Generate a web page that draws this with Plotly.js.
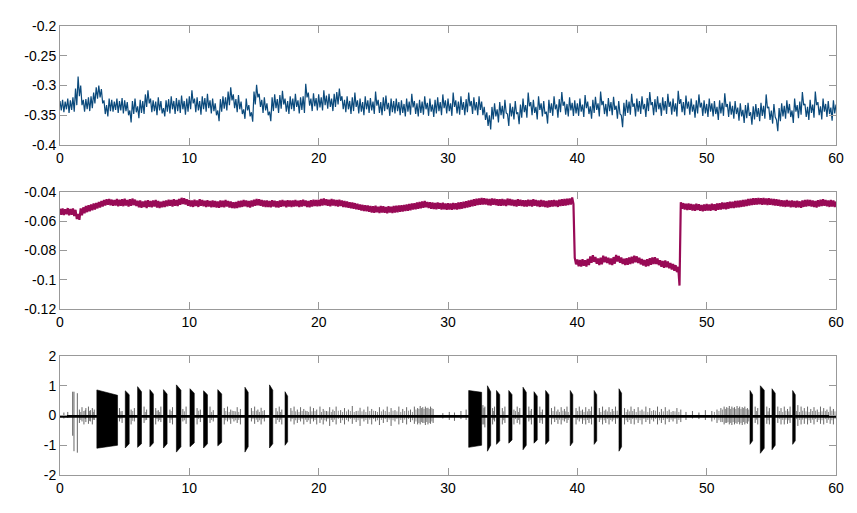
<!DOCTYPE html>
<html>
<head>
<meta charset="utf-8">
<script src="https://cdn.plot.ly/plotly-3.0.1.min.js"></script>
<style>
  html, body { margin: 0; padding: 0; background: #fff; }
  #chart { width: 857px; height: 513px; }
</style>
</head>
<body>
<div id="chart"></div>
<script>
/* Three stacked traces over 60 s: two noisy slow signals and one burst channel.
   The noisy traces are kept as the upper and lower edge of the drawn band
   (upper edge at 0, 0.2, 0.4 ... s, lower edge at 0.1, 0.3 ... s). */

const sampleStep = 0.2;

// ---- Top trace (blue) ----
const topUpper = [
  -0.326,-0.324,-0.327,-0.322,-0.325,-0.320,-0.305,-0.285,-0.300,-0.324,
  -0.323,-0.320,-0.318,-0.312,-0.303,-0.300,-0.306,-0.325,-0.333,-0.322,
  -0.324,-0.327,-0.322,-0.326,-0.321,-0.325,-0.328,-0.342,-0.326,-0.322,
  -0.335,-0.324,-0.326,-0.315,-0.308,-0.322,-0.325,-0.327,-0.320,-0.326,
  -0.338,-0.325,-0.323,-0.318,-0.326,-0.321,-0.324,-0.317,-0.326,-0.322,
  -0.318,-0.308,-0.322,-0.320,-0.326,-0.318,-0.321,-0.314,-0.325,-0.322,
  -0.330,-0.342,-0.323,-0.318,-0.320,-0.310,-0.303,-0.315,-0.323,-0.316,
  -0.327,-0.340,-0.322,-0.333,-0.345,-0.310,-0.299,-0.314,-0.324,-0.320,
  -0.330,-0.344,-0.320,-0.315,-0.323,-0.316,-0.309,-0.322,-0.326,-0.318,
  -0.322,-0.314,-0.325,-0.320,-0.318,-0.297,-0.312,-0.322,-0.313,-0.321,
  -0.315,-0.320,-0.308,-0.317,-0.314,-0.322,-0.314,-0.311,-0.305,-0.318,
  -0.324,-0.318,-0.326,-0.320,-0.312,-0.325,-0.322,-0.328,-0.318,-0.325,
  -0.321,-0.327,-0.310,-0.324,-0.328,-0.320,-0.317,-0.329,-0.322,-0.326,
  -0.322,-0.328,-0.325,-0.331,-0.322,-0.327,-0.314,-0.326,-0.330,-0.324,
  -0.327,-0.318,-0.329,-0.322,-0.332,-0.324,-0.320,-0.328,-0.315,-0.325,
  -0.322,-0.330,-0.312,-0.325,-0.327,-0.318,-0.328,-0.323,-0.312,-0.326,
  -0.320,-0.328,-0.318,-0.327,-0.336,-0.345,-0.350,-0.336,-0.330,-0.340,
  -0.328,-0.334,-0.324,-0.348,-0.330,-0.336,-0.326,-0.345,-0.332,-0.322,
  -0.333,-0.312,-0.328,-0.324,-0.336,-0.318,-0.330,-0.326,-0.344,-0.324,
  -0.330,-0.318,-0.332,-0.323,-0.311,-0.327,-0.331,-0.320,-0.329,-0.325,
  -0.330,-0.322,-0.332,-0.316,-0.327,-0.335,-0.324,-0.319,-0.330,-0.310,
  -0.326,-0.331,-0.321,-0.328,-0.319,-0.334,-0.326,-0.350,-0.329,-0.324,
  -0.327,-0.314,-0.330,-0.322,-0.326,-0.318,-0.331,-0.321,-0.311,-0.328,
  -0.323,-0.318,-0.329,-0.320,-0.326,-0.314,-0.327,-0.322,-0.330,-0.309,
  -0.323,-0.328,-0.317,-0.327,-0.322,-0.332,-0.325,-0.315,-0.329,-0.325,
  -0.331,-0.322,-0.330,-0.326,-0.336,-0.325,-0.329,-0.313,-0.331,-0.327,
  -0.334,-0.326,-0.337,-0.330,-0.341,-0.333,-0.329,-0.345,-0.335,-0.331,
  -0.338,-0.329,-0.334,-0.315,-0.336,-0.342,-0.331,-0.358,-0.338,-0.330,
  -0.334,-0.325,-0.331,-0.342,-0.322,-0.333,-0.327,-0.311,-0.331,-0.336,
  -0.324,-0.332,-0.310,-0.328,-0.335,-0.322,-0.331,-0.326,-0.337,-0.325,
  -0.332
];
const topLower = [
  -0.342,-0.345,-0.340,-0.346,-0.341,-0.344,-0.333,-0.318,-0.333,-0.344,
  -0.340,-0.343,-0.338,-0.330,-0.322,-0.320,-0.330,-0.348,-0.352,-0.343,
  -0.344,-0.341,-0.346,-0.342,-0.347,-0.343,-0.350,-0.362,-0.348,-0.345,
  -0.355,-0.346,-0.348,-0.336,-0.330,-0.345,-0.343,-0.350,-0.342,-0.347,
  -0.352,-0.344,-0.347,-0.340,-0.348,-0.343,-0.346,-0.340,-0.349,-0.344,
  -0.340,-0.330,-0.345,-0.342,-0.349,-0.340,-0.344,-0.338,-0.347,-0.343,
  -0.350,-0.360,-0.344,-0.339,-0.342,-0.333,-0.325,-0.338,-0.345,-0.340,
  -0.348,-0.356,-0.342,-0.352,-0.361,-0.332,-0.320,-0.336,-0.346,-0.342,
  -0.350,-0.360,-0.343,-0.338,-0.346,-0.339,-0.332,-0.344,-0.348,-0.340,
  -0.343,-0.336,-0.347,-0.341,-0.346,-0.320,-0.334,-0.343,-0.335,-0.342,
  -0.337,-0.342,-0.333,-0.339,-0.336,-0.343,-0.336,-0.332,-0.326,-0.340,
  -0.345,-0.340,-0.348,-0.343,-0.336,-0.347,-0.344,-0.350,-0.340,-0.346,
  -0.342,-0.348,-0.334,-0.346,-0.350,-0.343,-0.340,-0.351,-0.345,-0.347,
  -0.343,-0.350,-0.346,-0.352,-0.344,-0.349,-0.337,-0.348,-0.352,-0.346,
  -0.349,-0.340,-0.351,-0.344,-0.353,-0.347,-0.343,-0.350,-0.338,-0.347,
  -0.343,-0.351,-0.336,-0.347,-0.349,-0.341,-0.350,-0.345,-0.335,-0.348,
  -0.342,-0.350,-0.341,-0.350,-0.358,-0.368,-0.374,-0.357,-0.352,-0.362,
  -0.350,-0.356,-0.346,-0.368,-0.352,-0.357,-0.348,-0.365,-0.354,-0.345,
  -0.354,-0.335,-0.350,-0.346,-0.357,-0.341,-0.352,-0.348,-0.364,-0.346,
  -0.351,-0.340,-0.354,-0.345,-0.334,-0.349,-0.352,-0.342,-0.351,-0.347,
  -0.351,-0.344,-0.353,-0.338,-0.348,-0.356,-0.346,-0.341,-0.352,-0.333,
  -0.348,-0.352,-0.343,-0.350,-0.341,-0.356,-0.348,-0.370,-0.351,-0.346,
  -0.349,-0.336,-0.352,-0.344,-0.348,-0.340,-0.353,-0.343,-0.333,-0.350,
  -0.345,-0.340,-0.351,-0.342,-0.348,-0.336,-0.349,-0.344,-0.352,-0.331,
  -0.345,-0.350,-0.339,-0.349,-0.344,-0.354,-0.347,-0.337,-0.351,-0.347,
  -0.353,-0.344,-0.352,-0.348,-0.358,-0.347,-0.351,-0.336,-0.353,-0.349,
  -0.356,-0.348,-0.359,-0.352,-0.363,-0.355,-0.351,-0.366,-0.357,-0.353,
  -0.360,-0.351,-0.356,-0.338,-0.358,-0.364,-0.353,-0.377,-0.360,-0.352,
  -0.356,-0.347,-0.353,-0.363,-0.344,-0.355,-0.349,-0.333,-0.353,-0.358,
  -0.346,-0.354,-0.333,-0.350,-0.357,-0.344,-0.353,-0.348,-0.359,-0.347
];

// ---- Middle trace (magenta), with the drop between ~39.8 s and ~48 s ----
const midUpper = [
  -0.0515,-0.0512,-0.0518,-0.0510,-0.0516,-0.0513,-0.0522,-0.0550,-0.0512,-0.0505,
  -0.0495,-0.0490,-0.0485,-0.0478,-0.0475,-0.0468,-0.0462,-0.0455,-0.0450,-0.0448,
  -0.0452,-0.0455,-0.0448,-0.0453,-0.0450,-0.0446,-0.0455,-0.0450,-0.0445,-0.0452,
  -0.0460,-0.0458,-0.0465,-0.0460,-0.0456,-0.0462,-0.0458,-0.0455,-0.0462,-0.0466,
  -0.0462,-0.0458,-0.0452,-0.0455,-0.0450,-0.0455,-0.0448,-0.0440,-0.0442,-0.0450,
  -0.0455,-0.0458,-0.0452,-0.0458,-0.0450,-0.0455,-0.0460,-0.0456,-0.0462,-0.0458,
  -0.0462,-0.0465,-0.0458,-0.0460,-0.0455,-0.0462,-0.0465,-0.0470,-0.0468,-0.0462,
  -0.0460,-0.0455,-0.0458,-0.0462,-0.0458,-0.0452,-0.0448,-0.0450,-0.0455,-0.0458,
  -0.0458,-0.0462,-0.0456,-0.0460,-0.0463,-0.0458,-0.0455,-0.0460,-0.0456,-0.0458,
  -0.0458,-0.0455,-0.0460,-0.0456,-0.0452,-0.0458,-0.0462,-0.0456,-0.0452,-0.0455,
  -0.0452,-0.0448,-0.0445,-0.0450,-0.0453,-0.0448,-0.0452,-0.0455,-0.0452,-0.0458,
  -0.0462,-0.0465,-0.0470,-0.0472,-0.0476,-0.0480,-0.0485,-0.0488,-0.0490,-0.0492,
  -0.0495,-0.0498,-0.0494,-0.0500,-0.0496,-0.0498,-0.0502,-0.0497,-0.0500,-0.0496,
  -0.0494,-0.0492,-0.0490,-0.0488,-0.0485,-0.0482,-0.0478,-0.0476,-0.0472,-0.0468,
  -0.0465,-0.0462,-0.0468,-0.0470,-0.0472,-0.0475,-0.0472,-0.0476,-0.0474,-0.0478,
  -0.0476,-0.0478,-0.0475,-0.0477,-0.0472,-0.0470,-0.0466,-0.0463,-0.0458,-0.0455,
  -0.0450,-0.0446,-0.0444,-0.0440,-0.0442,-0.0446,-0.0448,-0.0444,-0.0446,-0.0450,
  -0.0450,-0.0448,-0.0452,-0.0445,-0.0448,-0.0452,-0.0455,-0.0450,-0.0452,-0.0456,
  -0.0456,-0.0452,-0.0455,-0.0450,-0.0454,-0.0458,-0.0455,-0.0458,-0.0462,-0.0458,
  -0.0456,-0.0454,-0.0458,-0.0452,-0.0450,-0.0448,-0.0446,-0.0444,-0.0438,-0.0850,
  -0.0862,-0.0865,-0.0860,-0.0866,-0.0858,-0.0840,-0.0832,-0.0845,-0.0855,-0.0850,
  -0.0836,-0.0842,-0.0850,-0.0855,-0.0845,-0.0830,-0.0838,-0.0848,-0.0856,-0.0852,
  -0.0848,-0.0842,-0.0835,-0.0840,-0.0850,-0.0858,-0.0865,-0.0860,-0.0852,-0.0848,
  -0.0846,-0.0855,-0.0866,-0.0872,-0.0868,-0.0875,-0.0885,-0.0892,-0.0900,-0.0912,
  -0.0470,-0.0476,-0.0480,-0.0478,-0.0482,-0.0485,-0.0480,-0.0484,-0.0488,-0.0485,
  -0.0482,-0.0485,-0.0480,-0.0484,-0.0478,-0.0476,-0.0472,-0.0474,-0.0470,-0.0466,
  -0.0466,-0.0462,-0.0460,-0.0458,-0.0455,-0.0452,-0.0448,-0.0446,-0.0443,-0.0442,
  -0.0440,-0.0443,-0.0441,-0.0445,-0.0443,-0.0446,-0.0448,-0.0450,-0.0453,-0.0456,
  -0.0458,-0.0455,-0.0460,-0.0458,-0.0462,-0.0460,-0.0464,-0.0458,-0.0455,-0.0452,
  -0.0455,-0.0458,-0.0462,-0.0456,-0.0452,-0.0450,-0.0454,-0.0458,-0.0455,-0.0458,
  -0.0465
];
const midLower = [
  -0.0555,-0.0558,-0.0552,-0.0560,-0.0556,-0.0565,-0.0585,-0.0590,-0.0560,-0.0545,
  -0.0538,-0.0532,-0.0525,-0.0520,-0.0512,-0.0506,-0.0500,-0.0492,-0.0488,-0.0490,
  -0.0495,-0.0492,-0.0498,-0.0494,-0.0497,-0.0492,-0.0500,-0.0495,-0.0490,-0.0496,
  -0.0504,-0.0508,-0.0503,-0.0510,-0.0502,-0.0505,-0.0500,-0.0506,-0.0510,-0.0505,
  -0.0502,-0.0498,-0.0495,-0.0500,-0.0494,-0.0496,-0.0488,-0.0482,-0.0486,-0.0494,
  -0.0500,-0.0502,-0.0496,-0.0502,-0.0494,-0.0498,-0.0503,-0.0499,-0.0505,-0.0502,
  -0.0506,-0.0508,-0.0502,-0.0505,-0.0500,-0.0506,-0.0510,-0.0512,-0.0510,-0.0505,
  -0.0502,-0.0498,-0.0503,-0.0506,-0.0500,-0.0495,-0.0490,-0.0494,-0.0499,-0.0502,
  -0.0502,-0.0505,-0.0500,-0.0504,-0.0507,-0.0501,-0.0498,-0.0504,-0.0500,-0.0502,
  -0.0500,-0.0498,-0.0503,-0.0500,-0.0496,-0.0502,-0.0505,-0.0499,-0.0496,-0.0498,
  -0.0496,-0.0492,-0.0490,-0.0494,-0.0497,-0.0492,-0.0496,-0.0499,-0.0496,-0.0502,
  -0.0505,-0.0508,-0.0512,-0.0515,-0.0518,-0.0522,-0.0526,-0.0530,-0.0532,-0.0535,
  -0.0540,-0.0542,-0.0538,-0.0544,-0.0540,-0.0542,-0.0546,-0.0541,-0.0544,-0.0540,
  -0.0538,-0.0536,-0.0534,-0.0530,-0.0528,-0.0525,-0.0520,-0.0518,-0.0515,-0.0512,
  -0.0508,-0.0505,-0.0510,-0.0514,-0.0516,-0.0518,-0.0515,-0.0520,-0.0518,-0.0522,
  -0.0520,-0.0522,-0.0518,-0.0520,-0.0516,-0.0514,-0.0510,-0.0506,-0.0502,-0.0498,
  -0.0494,-0.0490,-0.0488,-0.0485,-0.0486,-0.0490,-0.0492,-0.0488,-0.0490,-0.0494,
  -0.0494,-0.0492,-0.0496,-0.0490,-0.0492,-0.0496,-0.0499,-0.0494,-0.0496,-0.0500,
  -0.0500,-0.0496,-0.0499,-0.0494,-0.0498,-0.0502,-0.0499,-0.0502,-0.0506,-0.0502,
  -0.0500,-0.0498,-0.0502,-0.0496,-0.0494,-0.0492,-0.0490,-0.0486,-0.0482,-0.0895,
  -0.0908,-0.0910,-0.0905,-0.0910,-0.0900,-0.0884,-0.0878,-0.0890,-0.0900,-0.0895,
  -0.0880,-0.0886,-0.0895,-0.0900,-0.0890,-0.0876,-0.0884,-0.0893,-0.0900,-0.0898,
  -0.0893,-0.0888,-0.0880,-0.0885,-0.0895,-0.0903,-0.0910,-0.0906,-0.0898,-0.0893,
  -0.0892,-0.0900,-0.0912,-0.0918,-0.0914,-0.0922,-0.0930,-0.0938,-0.0948,-0.1040,
  -0.0515,-0.0520,-0.0524,-0.0522,-0.0526,-0.0529,-0.0524,-0.0528,-0.0532,-0.0529,
  -0.0526,-0.0529,-0.0524,-0.0528,-0.0522,-0.0520,-0.0516,-0.0518,-0.0514,-0.0510,
  -0.0510,-0.0506,-0.0504,-0.0502,-0.0499,-0.0496,-0.0492,-0.0490,-0.0487,-0.0486,
  -0.0484,-0.0487,-0.0485,-0.0489,-0.0487,-0.0490,-0.0492,-0.0494,-0.0497,-0.0500,
  -0.0502,-0.0499,-0.0504,-0.0502,-0.0506,-0.0504,-0.0508,-0.0502,-0.0499,-0.0496,
  -0.0499,-0.0502,-0.0506,-0.0500,-0.0496,-0.0494,-0.0498,-0.0502,-0.0499,-0.0502
];

// ---- Bottom trace: dense bursts (start/end time, envelope at each edge) ----
const burstStart = [2.85, 5.05, 6.00, 6.95, 8.00, 9.00, 10.05, 11.10, 12.20, 14.30, 16.20, 17.40,
                    31.60, 33.05, 33.75, 34.70, 35.80, 36.65, 37.55, 39.45, 41.30, 43.22,
                    53.35, 54.15, 55.05, 56.65];
const burstEnd   = [4.45, 5.35, 6.30, 7.22, 8.28, 9.35, 10.38, 11.40, 12.50, 14.55, 16.45, 17.60,
                    32.60, 33.30, 34.00, 34.95, 36.05, 36.90, 37.80, 39.65, 41.50, 43.42,
                    53.55, 54.45, 55.30, 56.85];
const burstTopL  = [0.86, 0.83, 0.97, 0.87, 0.87, 1.03, 0.90, 0.83, 0.87, 0.95, 1.03, 0.80,
                    0.84, 1.00, 0.84, 0.84, 0.95, 0.80, 0.84, 0.84, 0.84, 0.90,
                    0.84, 1.00, 0.90, 0.84];
const burstTopR  = [0.68, 0.70, 0.80, 0.72, 0.72, 0.85, 0.75, 0.70, 0.72, 0.78, 0.85, 0.65,
                    0.78, 0.80, 0.70, 0.70, 0.78, 0.65, 0.70, 0.70, 0.70, 0.75,
                    0.70, 0.85, 0.75, 0.70];
const burstBotL  = [-1.10, -1.09, -1.07, -1.05, -1.09, -1.23, -1.05, -1.09, -1.02, -1.23, -1.09, -1.00,
                    -1.07, -1.20, -0.97, -0.93, -1.15, -0.93, -0.97, -1.02, -0.97, -1.20,
                    -0.97, -1.27, -1.15, -0.97];
const burstBotR  = [-1.00, -0.95, -0.95, -0.92, -0.95, -1.05, -0.92, -0.95, -0.90, -1.05, -0.95, -0.88,
                    -1.00, -1.00, -0.85, -0.82, -1.00, -0.82, -0.85, -0.90, -0.85, -1.05,
                    -0.85, -1.10, -1.00, -0.85];

// ---- Bottom trace: larger single spikes between bursts (time, peak, trough) ----
const spikeTime = [
  0.30, 0.60, 0.98, 1.08, 1.34, 1.50, 1.70, 1.85, 2.00, 2.20, 2.35, 2.50, 2.65,
  4.60, 4.80, 5.50, 5.75, 6.50, 6.70, 7.40, 7.60, 7.80, 8.50, 8.70, 9.50, 9.75,
  10.60, 10.85, 11.60, 11.85, 12.70, 12.95, 13.20, 13.45, 13.70, 13.95, 14.80, 15.05,
  15.30, 15.55, 15.80, 16.70, 16.95, 17.15, 17.85, 18.10, 18.35, 18.60, 18.85, 19.10,
  19.35, 19.60, 19.85, 20.10, 20.35, 20.60, 20.85, 21.10, 21.35, 21.70, 22.00, 22.30,
  22.60, 22.90, 23.20, 23.50, 23.80, 24.10, 24.40, 24.70, 25.00, 25.30, 25.60, 25.90,
  26.20, 26.50, 26.80, 27.10, 27.40, 27.65, 27.85, 28.05, 28.25, 28.45, 28.65, 28.85,
  29.60, 30.10, 30.50, 31.00, 31.40, 32.70, 32.85, 33.45, 33.60, 34.20, 34.40, 35.10,
  35.35, 35.55, 36.25, 36.45, 37.10, 37.30, 38.00, 38.25, 38.50, 38.75, 39.00, 39.20,
  39.90, 40.15, 40.40, 40.65, 40.90, 41.10, 41.70, 41.95, 42.20, 42.45, 42.70, 42.95,
  43.65, 43.90, 44.15, 44.40, 44.70, 45.00, 45.30, 45.60, 45.90, 46.20, 46.50, 46.80,
  47.10, 47.40, 47.70, 48.00, 48.40, 48.90, 49.40, 49.90, 50.40, 50.80, 51.10, 51.35,
  51.55, 51.75, 51.95, 52.15, 52.35, 52.55, 52.75, 52.95, 53.15, 53.75, 53.95, 54.65,
  54.85, 55.50, 55.75, 56.00, 56.25, 56.45, 57.05, 57.30, 57.55, 57.80, 58.05, 58.30,
  58.55, 58.80, 59.05, 59.30, 59.55, 59.80
];
const spikePeak = [
  0.10, 0.12, 0.80, 0.80, 0.75, 0.20, 0.28, 0.15, 0.25, 0.30, 0.18, 0.25, 0.20,
  0.25, 0.15, 0.20, 0.25, 0.30, 0.20, 0.25, 0.18, 0.30, 0.20, 0.28, 0.22, 0.30,
  0.25, 0.20, 0.30, 0.18, 0.25, 0.30, 0.20, 0.15, 0.28, 0.22, 0.25, 0.30,
  0.20, 0.26, 0.18, 0.25, 0.30, 0.20, 0.25, 0.30, 0.20, 0.28, 0.22, 0.15,
  0.30, 0.25, 0.20, 0.30, 0.22, 0.15, 0.28, 0.20, 0.30, 0.18, 0.25, 0.20,
  0.32, 0.15, 0.26, 0.20, 0.30, 0.22, 0.15, 0.28, 0.20, 0.30, 0.25, 0.18,
  0.30, 0.22, 0.28, 0.20, 0.30, 0.25, 0.32, 0.28, 0.30, 0.26, 0.30, 0.22,
  0.08, 0.12, 0.10, 0.15, 0.20, 0.35, 0.30, 0.25, 0.30, 0.25, 0.30, 0.20,
  0.30, 0.25, 0.30, 0.22, 0.30, 0.20, 0.25, 0.30, 0.20, 0.28, 0.22, 0.30,
  0.25, 0.30, 0.20, 0.28, 0.22, 0.30, 0.25, 0.30, 0.20, 0.28, 0.22, 0.30,
  0.25, 0.20, 0.30, 0.22, 0.28, 0.20, 0.30, 0.25, 0.18, 0.30, 0.22, 0.28,
  0.20, 0.15, 0.25, 0.20, 0.12, 0.15, 0.10, 0.18, 0.15, 0.20, 0.25, 0.30,
  0.28, 0.32, 0.30, 0.28, 0.32, 0.30, 0.28, 0.30, 0.25, 0.30, 0.25, 0.30,
  0.25, 0.30, 0.25, 0.30, 0.22, 0.30, 0.35, 0.30, 0.25, 0.30, 0.22, 0.28,
  0.20, 0.30, 0.25, 0.20, 0.30, 0.22
];
const spikeTrough = [
  -0.10, -0.08, -0.68, -1.20, -1.25, -0.25, -0.20, -0.30, -0.22, -0.28, -0.20, -0.30, -0.15,
  -0.20, -0.25, -0.30, -0.20, -0.25, -0.15, -0.30, -0.20, -0.22, -0.25, -0.30, -0.20, -0.28,
  -0.30, -0.22, -0.25, -0.20, -0.30, -0.20, -0.28, -0.20, -0.25, -0.30, -0.20, -0.28,
  -0.22, -0.30, -0.20, -0.28, -0.22, -0.30, -0.20, -0.30, -0.25, -0.20, -0.30, -0.22,
  -0.28, -0.20, -0.30, -0.25, -0.30, -0.20, -0.35, -0.22, -0.30, -0.25, -0.30, -0.20,
  -0.28, -0.22, -0.35, -0.20, -0.28, -0.30, -0.20, -0.32, -0.25, -0.22, -0.35, -0.20,
  -0.30, -0.25, -0.30, -0.22, -0.28, -0.30, -0.30, -0.25, -0.32, -0.30, -0.28, -0.25,
  -0.10, -0.15, -0.18, -0.12, -0.15, -0.30, -0.40, -0.30, -0.20, -0.30, -0.25, -0.30,
  -0.25, -0.30, -0.20, -0.30, -0.25, -0.28, -0.30, -0.22, -0.28, -0.30, -0.20, -0.25,
  -0.30, -0.20, -0.28, -0.30, -0.25, -0.30, -0.22, -0.30, -0.25, -0.30, -0.20, -0.28,
  -0.30, -0.22, -0.28, -0.30, -0.25, -0.30, -0.22, -0.28, -0.20, -0.30, -0.25, -0.30,
  -0.22, -0.20, -0.28, -0.22, -0.15, -0.10, -0.12, -0.15, -0.20, -0.25, -0.22, -0.30,
  -0.25, -0.30, -0.32, -0.30, -0.28, -0.30, -0.32, -0.30, -0.28, -0.25, -0.30, -0.28,
  -0.30, -0.25, -0.30, -0.30, -0.28, -0.25, -0.35, -0.30, -0.28, -0.30, -0.25, -0.30,
  -0.22, -0.28, -0.30, -0.25, -0.28, -0.30
];

// ---- Bottom trace: smaller spikes filling the gaps (time, peak, trough) ----
const minorTime = [
  1.60, 1.95, 2.28, 2.58, 4.70, 5.62, 6.60, 7.50, 7.70, 8.60, 9.62, 10.72, 11.72, 12.82,
  13.08, 13.32, 13.58, 13.82, 14.92, 15.18, 15.42, 15.68, 16.82, 17.05, 17.95, 18.22,
  18.48, 18.72, 18.98, 19.22, 19.48, 19.72, 20.22, 20.48, 20.72, 20.98, 21.22, 21.52,
  21.85, 22.15, 22.45, 22.75, 23.05, 23.35, 23.65, 23.95, 24.25, 24.55, 24.85, 25.15,
  25.45, 25.75, 26.05, 26.35, 26.65, 26.95, 27.25, 27.52, 27.75, 27.95, 28.15, 28.35,
  28.55, 28.75, 32.78, 33.52, 34.30, 35.22, 35.45, 36.35, 37.20, 38.12, 38.38, 38.62,
  38.88, 39.10, 39.30, 40.02, 40.28, 40.52, 40.78, 41.00, 41.82, 42.08, 42.32, 42.58,
  42.82, 43.08, 43.78, 44.02, 44.28, 44.55, 44.85, 45.15, 45.45, 45.75, 46.05, 46.35,
  46.65, 46.95, 47.25, 47.55, 47.85, 50.60, 50.95, 51.22, 51.45, 51.65, 51.85, 52.05,
  52.25, 52.45, 52.65, 52.85, 53.05, 53.25, 53.85, 54.75, 55.62, 55.88, 56.12, 56.35,
  56.95, 57.18, 57.42, 57.68, 57.92, 58.18, 58.42, 58.68, 58.92, 59.18, 59.42, 59.68, 59.92
];
const minorPeak = [
  0.12, 0.18, 0.15, 0.12, 0.14, 0.15, 0.12, 0.16, 0.12, 0.15, 0.14, 0.16, 0.12, 0.15,
  0.12, 0.16, 0.14, 0.12, 0.15, 0.16, 0.12, 0.15, 0.14, 0.12, 0.16, 0.14,
  0.12, 0.15, 0.16, 0.12, 0.14, 0.15, 0.12, 0.16, 0.14, 0.12, 0.15, 0.16,
  0.12, 0.14, 0.15, 0.12, 0.16, 0.14, 0.12, 0.15, 0.16, 0.12, 0.14, 0.15,
  0.12, 0.16, 0.14, 0.12, 0.15, 0.16, 0.12, 0.20, 0.22, 0.25, 0.22, 0.25,
  0.22, 0.25, 0.25, 0.15, 0.14, 0.15, 0.12, 0.16, 0.12, 0.15, 0.14, 0.12,
  0.16, 0.14, 0.12, 0.15, 0.16, 0.12, 0.14, 0.15, 0.12, 0.16, 0.14, 0.12,
  0.15, 0.16, 0.12, 0.14, 0.15, 0.12, 0.16, 0.14, 0.12, 0.15, 0.16, 0.12,
  0.14, 0.15, 0.12, 0.14, 0.12, 0.12, 0.15, 0.20, 0.22, 0.25, 0.22, 0.25,
  0.22, 0.25, 0.22, 0.25, 0.22, 0.20, 0.15, 0.14, 0.15, 0.12, 0.16, 0.14,
  0.15, 0.12, 0.16, 0.14, 0.12, 0.15, 0.16, 0.12, 0.14, 0.15, 0.12, 0.16, 0.14
];
const minorTrough = [
  -0.15, -0.12, -0.18, -0.14, -0.12, -0.18, -0.16, -0.12, -0.15, -0.14, -0.16, -0.12, -0.15, -0.16,
  -0.14, -0.12, -0.16, -0.15, -0.12, -0.14, -0.16, -0.12, -0.15, -0.14, -0.12, -0.16,
  -0.15, -0.12, -0.14, -0.16, -0.12, -0.15, -0.14, -0.16, -0.12, -0.15, -0.14, -0.12,
  -0.16, -0.15, -0.12, -0.14, -0.16, -0.12, -0.15, -0.14, -0.12, -0.16, -0.15, -0.12,
  -0.14, -0.16, -0.12, -0.15, -0.14, -0.12, -0.16, -0.20, -0.25, -0.22, -0.25, -0.22,
  -0.25, -0.20, -0.30, -0.14, -0.16, -0.12, -0.15, -0.14, -0.16, -0.12, -0.15, -0.14,
  -0.16, -0.12, -0.15, -0.14, -0.12, -0.16, -0.15, -0.12, -0.14, -0.16, -0.12, -0.15,
  -0.14, -0.12, -0.16, -0.15, -0.12, -0.14, -0.16, -0.12, -0.15, -0.14, -0.12, -0.16,
  -0.15, -0.12, -0.14, -0.12, -0.15, -0.14, -0.16, -0.22, -0.25, -0.22, -0.25, -0.22,
  -0.25, -0.22, -0.25, -0.22, -0.25, -0.20, -0.14, -0.16, -0.12, -0.15, -0.14, -0.16,
  -0.12, -0.15, -0.14, -0.12, -0.16, -0.14, -0.12, -0.15, -0.16, -0.12, -0.14, -0.16, -0.12
];

// Quiet baseline of the burst channel
const baseTime  = [0, 60];
const baseLevel = [-0.03, -0.03];

// ---- Tick labels (plain hyphen, as in the picture) ----
const xTicks      = [0, 10, 20, 30, 40, 50, 60];
const topTicks    = [-0.4, -0.35, -0.3, -0.25, -0.2];
const topLabels   = ['-0.4', '-0.35', '-0.3', '-0.25', '-0.2'];
const midTicks    = [-0.12, -0.1, -0.08, -0.06, -0.04];
const midLabels   = ['-0.12', '-0.1', '-0.08', '-0.06', '-0.04'];
const botTicks    = [-2, -1, 0, 1, 2];
const botLabels   = ['-2', '-1', '0', '1', '2'];

// ---- Build traces ----
// zigzag between the band edges: upper at i*0.2 s, lower at i*0.2 + 0.1 s
function bandZigzag(upper, lower) {
  const xs = [], ys = [];
  upper.forEach((v, i) => {
    xs.push(+(i * sampleStep).toFixed(2)); ys.push(v);
    if (i < lower.length) { xs.push(+(i * sampleStep + sampleStep / 2).toFixed(2)); ys.push(lower[i]); }
  });
  return { xs, ys };
}
const topSeries = bandZigzag(topUpper, topLower);
const midSeries = bandZigzag(midUpper, midLower);

const burstX = [], burstY = [];
burstStart.forEach((s, i) => {
  const e = burstEnd[i];
  burstX.push(s, s, e, e, s, null);
  burstY.push(burstBotL[i], burstTopL[i], burstTopR[i], burstBotR[i], burstBotL[i], null);
});

function spikeSegments(times, peaks, troughs) {
  const xs = [], ys = [];
  times.forEach((t, i) => {
    xs.push(t, t, null);
    ys.push(peaks[i], troughs[i], null);
  });
  return { xs, ys };
}
const bigSpikes   = spikeSegments(spikeTime, spikePeak, spikeTrough);
const minorSpikes = spikeSegments(minorTime, minorPeak, minorTrough);

const traces = [
  {
    x: topSeries.xs, y: topSeries.ys, xaxis: 'x', yaxis: 'y',
    type: 'scatter', mode: 'lines',
    line: { color: '#0b4a7c', width: 1.2, simplify: false },
  },
  {
    x: midSeries.xs, y: midSeries.ys, xaxis: 'x2', yaxis: 'y2',
    type: 'scatter', mode: 'lines',
    line: { color: '#980a56', width: 2.2, simplify: false },
  },
  {
    x: minorSpikes.xs, y: minorSpikes.ys, xaxis: 'x3', yaxis: 'y3',
    type: 'scatter', mode: 'lines', connectgaps: false,
    line: { color: 'rgba(0,0,0,0.55)', width: 0.8, simplify: false },
  },
  {
    x: bigSpikes.xs, y: bigSpikes.ys, xaxis: 'x3', yaxis: 'y3',
    type: 'scatter', mode: 'lines', connectgaps: false,
    line: { color: 'rgba(0,0,0,0.75)', width: 0.8, simplify: false },
  },
  {
    x: baseTime, y: baseLevel, xaxis: 'x3', yaxis: 'y3',
    type: 'scatter', mode: 'lines',
    line: { color: '#000', width: 2.8 },
  },
  {
    x: burstX, y: burstY, xaxis: 'x3', yaxis: 'y3',
    type: 'scatter', mode: 'lines', fill: 'toself', connectgaps: false,
    fillcolor: '#000',
    line: { color: '#000', width: 0.6, simplify: false },
  },
];

// ---- Axes ----
const FONT = { family: 'Liberation Sans, Arial, sans-serif', size: 14, color: '#000' };

function xAxis(anchor) {
  return {
    anchor, range: [0, 60], tickvals: xTicks, ticktext: xTicks.map(String),
    ticks: 'inside', ticklen: 7, tickcolor: '#999', tickwidth: 1,
    showline: true, linecolor: '#999', linewidth: 1, mirror: 'ticks',
    showgrid: false, zeroline: false, tickfont: FONT,
  };
}
function yAxis(anchor, domain, range, vals, text) {
  return {
    anchor, domain, range, tickvals: vals, ticktext: text,
    ticks: 'inside', ticklen: 7, tickcolor: '#999', tickwidth: 1,
    showline: true, linecolor: '#999', linewidth: 1, mirror: 'ticks',
    showgrid: false, zeroline: false, tickfont: FONT,
  };
}

const layout = {
  width: 857, height: 513,
  margin: { l: 60, r: 21, t: 26, b: 38 },
  paper_bgcolor: '#fff', plot_bgcolor: '#fff',
  showlegend: false,
  font: FONT,
  xaxis:  xAxis('y'),
  xaxis2: xAxis('y2'),
  xaxis3: xAxis('y3'),
  yaxis:  yAxis('x',  [0.735, 1],       [-0.4, -0.2],   topTicks, topLabels),
  yaxis2: yAxis('x2', [0.3697, 0.6303], [-0.12, -0.04], midTicks, midLabels),
  yaxis3: yAxis('x3', [0, 0.265],       [-2, 2],        botTicks, botLabels),
};

Plotly.newPlot('chart', traces, layout, { staticPlot: true, displayModeBar: false });
</script>
</body>
</html>
